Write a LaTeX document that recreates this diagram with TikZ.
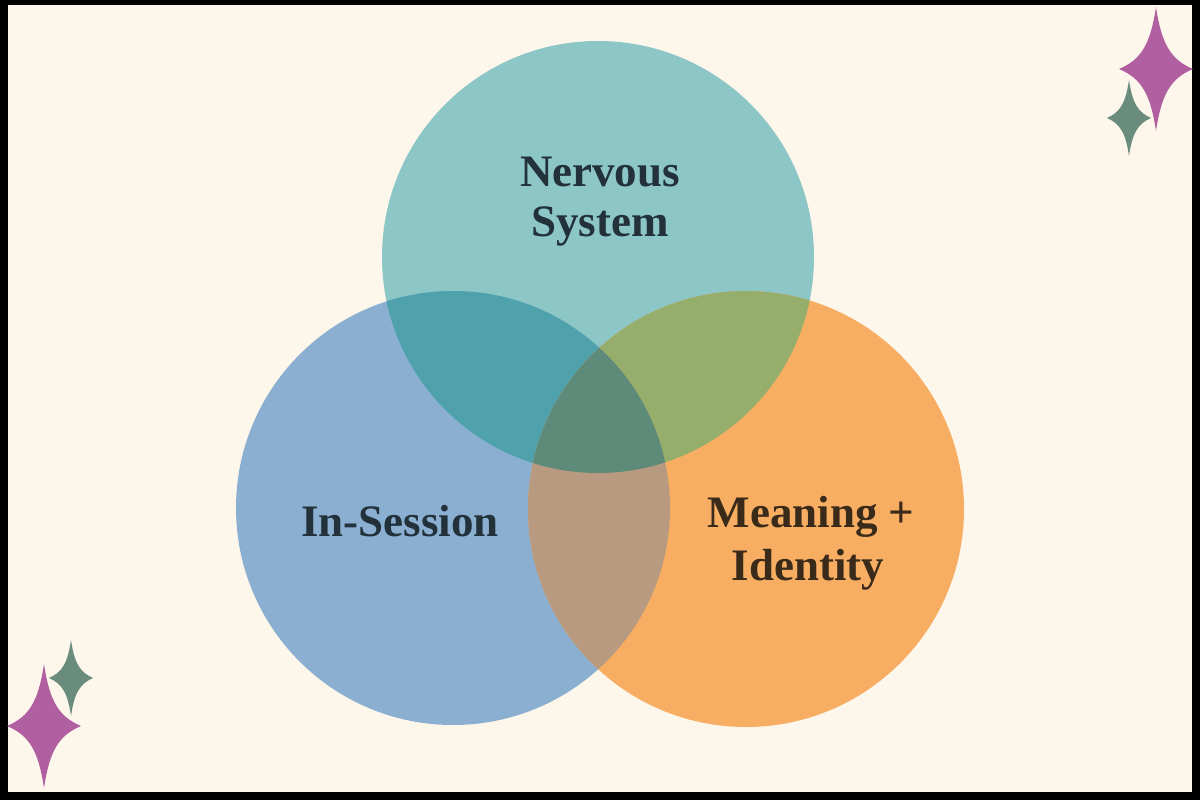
\documentclass[tikz,border=0pt]{standalone}
\usepackage{fontspec}
\setmainfont{Liberation Serif}
\definecolor{bg}{HTML}{FDF6EB}
\definecolor{teal}{HTML}{8CC6C6}
\definecolor{blueC}{HTML}{8AAFD0}
\definecolor{orangeC}{HTML}{F8AE62}
\definecolor{tb}{HTML}{4FA2AB}
\definecolor{to}{HTML}{96AE6B}
\definecolor{bo}{HTML}{B89A80}
\definecolor{tbo}{HTML}{5E8A7A}
\definecolor{pinkS}{HTML}{B060A0}
\definecolor{greenS}{HTML}{6A8C7C}
\definecolor{darkT}{HTML}{22313A}
\definecolor{brownT}{HTML}{3A2A1A}
\tikzset{
  lbl/.style={font=\fontsize{45}{50}\selectfont\bfseries, anchor=base, inner sep=0pt},
  sparkle/.pic={
    \fill[pic actions] (0,1) .. controls (0.15,0.4) and (0.4,0.15) .. (1,0)
      .. controls (0.4,-0.15) and (0.15,-0.4) .. (0,-1)
      .. controls (-0.15,-0.4) and (-0.4,-0.15) .. (-1,0)
      .. controls (-0.4,0.15) and (-0.15,0.4) .. (0,1) -- cycle;
  }
}
\begin{document}
\begin{tikzpicture}[x=1pt,y=-1pt]
\useasboundingbox (0,0) rectangle (1200,800);
\fill[black] (0,0) rectangle (1200,800);
\fill[bg] (8,5) rectangle (1192,792);
% circles
\def\Ca{(598,257) circle[radius=216]}
\def\Cb{(453,508) circle[radius=217]}
\def\Cc{(746,509) circle[radius=218]}
\fill[teal] \Ca;
\fill[blueC] \Cb;
\fill[orangeC] \Cc;
\begin{scope}\clip \Ca; \fill[tb] \Cb; \end{scope}
\begin{scope}\clip \Ca; \fill[to] \Cc; \end{scope}
\begin{scope}\clip \Cb; \fill[bo] \Cc; \end{scope}
\begin{scope}\clip \Ca; \clip \Cb; \fill[tbo] \Cc; \end{scope}
% labels
\node[lbl, text=darkT] (n1) at (600,186) {Nervous};
\node[lbl, text=darkT] (n2) at (600,236) {System};
\node[lbl, text=darkT] (s1) at (400,536) {In-Session};
\node[lbl, text=brownT] (m1) at (811,527) {Meaning +};
\node[lbl, text=brownT] (m2) at (808,580) {Identity};
% sparkles
\pic[pinkS, xscale=37, yscale=62] at (1156,69) {sparkle};
\pic[greenS, xscale=22, yscale=38] at (1129,118) {sparkle};
\pic[greenS, xscale=22, yscale=38] at (71,678) {sparkle};
\pic[pinkS, xscale=37, yscale=62] at (44,726) {sparkle};
\end{tikzpicture}
\end{document}
